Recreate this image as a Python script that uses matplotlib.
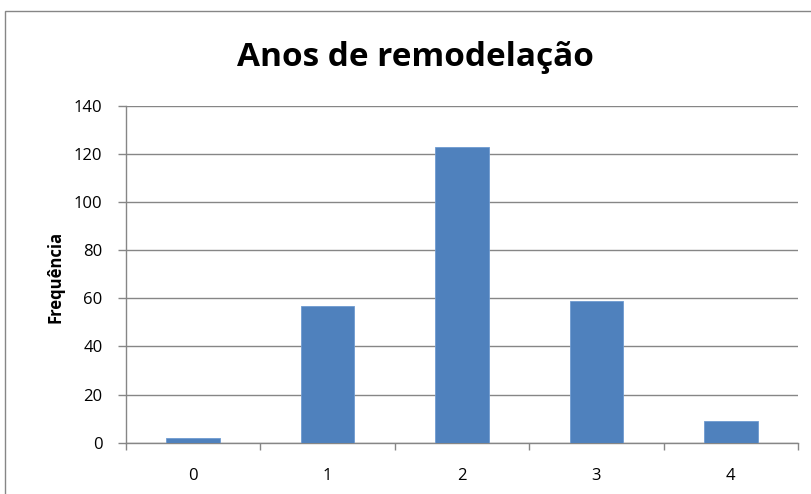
import matplotlib
matplotlib.use("Agg")
import matplotlib.pyplot as plt
from matplotlib.patches import Rectangle

categories = ["0", "1", "2", "3", "4"]
frequencies = [2, 57, 123, 59, 9]
y_ticks = [0, 20, 40, 60, 80, 100, 120, 140]

plt.rcParams["font.family"] = ["Open Sans", "DejaVu Sans"]

W, H = 812, 494
fig = plt.figure(figsize=(W / 100, H / 100), dpi=100)
fig.patch.set_facecolor("white")

# chart frame
fig.patches.append(Rectangle((5 / W, -0.1), 1.2, 1.1 - 11 / H, transform=fig.transFigure,
                             fill=False, edgecolor="#868686", linewidth=1.0))

ax = fig.add_axes([126 / W, 1 - 442.7 / H, (798 - 126) / W, (442.7 - 106) / H])
x = list(range(len(categories)))
ax.bar(x, frequencies, width=0.4, color="#4F81BD", edgecolor="#6E9AD0", linewidth=0.6, zorder=3)

ax.set_xlim(-0.5, len(categories) - 0.5)
ax.set_ylim(0, 140)
ax.set_yticks(y_ticks)
ax.set_yticklabels([str(v) for v in y_ticks], fontsize=12)
ax.set_xticks(x)
ax.set_xticklabels(categories, fontsize=12)
ax.tick_params(axis="x", length=0, pad=18)
ax.tick_params(axis="y", length=6, color="#868686", width=1, pad=11)

# category boundary ticks below the x-axis
ax.set_xticks([i - 0.5 for i in range(len(categories) + 1)], minor=True)
ax.tick_params(axis="x", which="minor", length=5, color="#868686", width=1)

ax.yaxis.grid(True, color="#868686", linewidth=1)
ax.set_axisbelow(True)
for s in ["top", "right"]:
    ax.spines[s].set_visible(False)
for s in ["left", "bottom"]:
    ax.spines[s].set_color("#868686")
    ax.spines[s].set_linewidth(1)

ax.set_ylabel("Frequência", fontsize=12, fontweight="bold")
ax.yaxis.set_label_coords(-0.092, 0.492)
fig.text(415 / W, 1 - 57 / H, "Anos de remodelação", fontsize=24, fontweight="bold",
         ha="center", va="center")

fig.savefig("out.png", dpi=100)
